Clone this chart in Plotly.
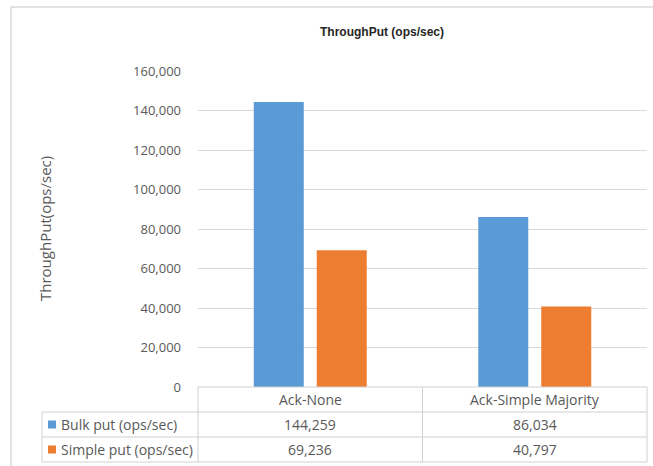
import plotly.graph_objects as go

# ---- data ----
categories = ["Ack-None", "Ack-Simple Majority"]
series_names = ["Bulk put (ops/sec)", "Simple put (ops/sec)"]
bulk_put = [144259, 86034]
simple_put = [69236, 40797]
series_values = [bulk_put, simple_put]
series_colors = ["#5B9BD5", "#ED7D31"]
y_tickvals = [0, 20000, 40000, 60000, 80000, 100000, 120000, 140000, 160000]
y_ticktext = [f"{v:,}" for v in y_tickvals]

W, H = 653, 466
ML, MR, MT, MB = 198, 6, 71, 79
PW = W - ML - MR
PH = H - MT - MB

FONT = "Open Sans"
GREY = "#595959"
LINE = "#d0d0d0"

fig = go.Figure()
for name, vals, col in zip(series_names, series_values, series_colors):
    fig.add_trace(go.Bar(x=categories, y=vals, name=name, marker_color=col,
                         marker_line_width=0, hoverinfo="x+y"))

def py(px_below):
    return -px_below / PH

def pxp(px):
    return (px - ML) / PW

n = len(categories)
row_h = 25
rows_y = [py(0), py(row_h), py(2 * row_h), py(3 * row_h)]
x_left = pxp(42)
col_edges = [i / n for i in range(n + 1)]
col_centers = [(i + 0.5) / n for i in range(n)]

line_style = dict(color=LINE, width=1)
shapes = []
shapes.append(dict(type="line", xref="paper", yref="paper", x0=0, x1=1,
                   y0=rows_y[0], y1=rows_y[0], line=line_style))
for yy in rows_y[1:]:
    shapes.append(dict(type="line", xref="paper", yref="paper", x0=x_left, x1=1,
                       y0=yy, y1=yy, line=line_style))
for xx in col_edges:
    shapes.append(dict(type="line", xref="paper", yref="paper", x0=xx, x1=xx,
                       y0=rows_y[0], y1=rows_y[3], line=line_style))
shapes.append(dict(type="line", xref="paper", yref="paper", x0=x_left, x1=x_left,
                   y0=rows_y[1], y1=rows_y[3], line=line_style))

# outer chart border (left and top)
bx = pxp(11)
by = 1 + (MT - 7) / PH
shapes.append(dict(type="line", xref="paper", yref="paper", x0=bx, x1=bx, y0=by, y1=-1,
                   line=dict(color="#d9d9d9", width=1.5)))
shapes.append(dict(type="line", xref="paper", yref="paper", x0=bx, x1=2, y0=by, y1=by,
                   line=dict(color="#d9d9d9", width=1.5)))

tfont = dict(family=FONT, size=14, color=GREY)
annotations = []
for c, xc in zip(categories, col_centers):
    annotations.append(dict(x=xc, y=(rows_y[0] + rows_y[1]) / 2, xref="paper", yref="paper",
                            xanchor="center", yanchor="middle",
                            text=c, showarrow=False, font=tfont))
for r, (name, vals, col) in enumerate(zip(series_names, series_values, series_colors)):
    yc = (rows_y[r + 1] + rows_y[r + 2]) / 2
    for xc, v in zip(col_centers, vals):
        annotations.append(dict(x=xc, y=yc, xref="paper", yref="paper", text=f"{v:,}",
                                xanchor="center", yanchor="middle",
                                showarrow=False, font=tfont))
    annotations.append(dict(x=pxp(59), y=yc, xref="paper", yref="paper", xanchor="left",
                            yanchor="middle", text=name, showarrow=False, font=tfont))
    shapes.append(dict(type="rect", xref="paper", yref="paper",
                       x0=pxp(48), x1=pxp(56), y0=yc - 4 / PH, y1=yc + 4 / PH,
                       fillcolor=col, line=dict(width=0)))

annotations.append(dict(x=pxp(45), y=0.5, xref="paper", yref="paper",
                        xanchor="center", yanchor="middle",
                        text="ThroughPut(ops/sec)", textangle=-90, showarrow=False,
                        font=dict(family=FONT, size=15, color=GREY)))

fig.update_layout(
    width=W, height=H,
    margin=dict(l=ML, r=MR, t=MT, b=MB, autoexpand=False),
    paper_bgcolor="white", plot_bgcolor="white",
    barmode="group", bargap=0.439, bargroupgap=0.206,
    showlegend=False,
    title=dict(text="<b>ThroughPut (ops/sec)</b>", xref="container", yref="container",
               x=382 / W, y=1 - 32 / H, xanchor="center", yanchor="middle",
               font=dict(family="Liberation Sans", size=12, color="#262626")),
    xaxis=dict(showticklabels=False, showgrid=False, zeroline=False, showline=False,
               range=[-0.5, n - 0.5], fixedrange=True),
    yaxis=dict(range=[0, 160000], tickvals=y_tickvals, ticktext=y_ticktext,
               showgrid=True, gridcolor="#d9d9d9", gridwidth=1, zeroline=False,
               showline=False, ticks="", ticklabelstandoff=16,
               tickfont=dict(family=FONT, size=13, color=GREY), fixedrange=True),
    shapes=shapes, annotations=annotations,
    font=dict(family=FONT, color=GREY),
)

fig.write_html("out.html", config={"displayModeBar": False},
               post_script="document.body.style.margin='0';")
